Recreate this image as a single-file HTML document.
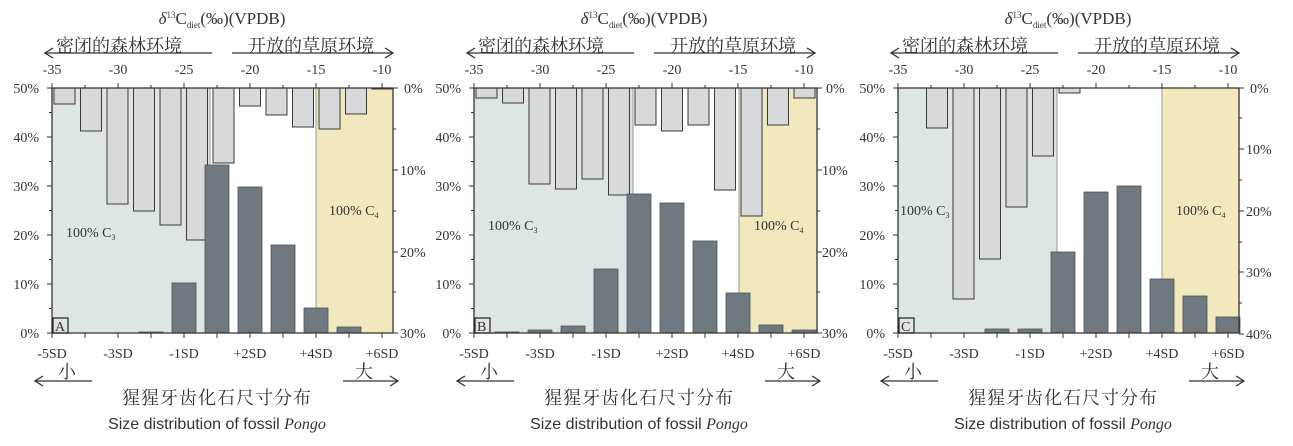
<!DOCTYPE html>
<html><head><meta charset="utf-8"><style>
html,body{margin:0;padding:0;background:#fff}
svg{display:block}
.t{font-family:"Liberation Serif",serif;font-size:14px;fill:#333}
.c{font-family:"Liberation Serif","Noto Serif CJK SC",serif;font-size:18px;fill:#333}
.ct{font-family:"Liberation Serif","Noto Serif CJK SC",serif;font-size:18px;fill:#333;letter-spacing:1px}
.e{font-family:"Liberation Sans",sans-serif;font-size:16px;fill:#333}
</style></head><body>
<svg id="s" width="1293" height="446" viewBox="0 0 1293 446" xmlns="http://www.w3.org/2000/svg">
<g id="pA" transform="translate(52,0)">
<g class="bars"></g>
<text class="t" x="170" y="24" text-anchor="middle" style="font-size:17px"><tspan font-style="italic">δ</tspan><tspan dy="-6" font-size="9">13</tspan><tspan dy="6">C</tspan><tspan dy="4" font-size="9">diet</tspan><tspan dy="-4">(‰)(VPDB)</tspan></text>
<text class="c" x="4" y="52">密闭的森林环境</text>
<text class="c" x="196" y="52">开放的草原环境</text>
<text class="t" x="0" y="74" text-anchor="middle">-35</text><text class="t" x="66" y="74" text-anchor="middle">-30</text><text class="t" x="132" y="74" text-anchor="middle">-25</text><text class="t" x="198" y="74" text-anchor="middle">-20</text><text class="t" x="264" y="74" text-anchor="middle">-15</text><text class="t" x="330" y="74" text-anchor="middle">-10</text>
<text class="t" x="-13" y="93" text-anchor="end">50%</text><text class="t" x="-13" y="142" text-anchor="end">40%</text><text class="t" x="-13" y="191" text-anchor="end">30%</text><text class="t" x="-13" y="240" text-anchor="end">20%</text><text class="t" x="-13" y="289" text-anchor="end">10%</text><text class="t" x="-13" y="338" text-anchor="end">0%</text>
<text class="t" x="352" y="93">0%</text><text class="t" x="348" y="175">10%</text><text class="t" x="348" y="257">20%</text><text class="t" x="348" y="338">30%</text>
<text class="t" x="14" y="237">100% C<tspan dy="3" font-size="8">3</tspan></text>
<text class="t" x="277" y="215">100% C<tspan dy="3" font-size="8">4</tspan></text>
<text class="t" x="3" y="331">A</text>
<text class="t" x="0" y="358" text-anchor="middle">-5SD</text><text class="t" x="66" y="358" text-anchor="middle">-3SD</text><text class="t" x="132" y="358" text-anchor="middle">-1SD</text><text class="t" x="198" y="358" text-anchor="middle">+2SD</text><text class="t" x="264" y="358" text-anchor="middle">+4SD</text><text class="t" x="330" y="358" text-anchor="middle">+6SD</text>
<text class="c" x="6" y="378">小</text><text class="c" x="303" y="378">大</text>
<text class="ct" x="165" y="404" text-anchor="middle">猩猩牙齿化石尺寸分布</text>
<text class="e" x="165" y="429" text-anchor="middle">Size distribution of fossil <tspan font-style="italic" font-family="Liberation Serif">Pongo</tspan></text>
</g>
<g id="pB" transform="translate(474,0)">
<g class="bars"></g>
<text class="t" x="170" y="24" text-anchor="middle" style="font-size:17px"><tspan font-style="italic">δ</tspan><tspan dy="-6" font-size="9">13</tspan><tspan dy="6">C</tspan><tspan dy="4" font-size="9">diet</tspan><tspan dy="-4">(‰)(VPDB)</tspan></text>
<text class="c" x="4" y="52">密闭的森林环境</text>
<text class="c" x="196" y="52">开放的草原环境</text>
<text class="t" x="0" y="74" text-anchor="middle">-35</text><text class="t" x="66" y="74" text-anchor="middle">-30</text><text class="t" x="132" y="74" text-anchor="middle">-25</text><text class="t" x="198" y="74" text-anchor="middle">-20</text><text class="t" x="264" y="74" text-anchor="middle">-15</text><text class="t" x="330" y="74" text-anchor="middle">-10</text>
<text class="t" x="-13" y="93" text-anchor="end">50%</text><text class="t" x="-13" y="142" text-anchor="end">40%</text><text class="t" x="-13" y="191" text-anchor="end">30%</text><text class="t" x="-13" y="240" text-anchor="end">20%</text><text class="t" x="-13" y="289" text-anchor="end">10%</text><text class="t" x="-13" y="338" text-anchor="end">0%</text>
<text class="t" x="352" y="93">0%</text><text class="t" x="348" y="175">10%</text><text class="t" x="348" y="257">20%</text><text class="t" x="348" y="338">30%</text>
<text class="t" x="14" y="230">100% C<tspan dy="3" font-size="8">3</tspan></text>
<text class="t" x="280" y="230">100% C<tspan dy="3" font-size="8">4</tspan></text>
<text class="t" x="3" y="331">B</text>
<text class="t" x="0" y="358" text-anchor="middle">-5SD</text><text class="t" x="66" y="358" text-anchor="middle">-3SD</text><text class="t" x="132" y="358" text-anchor="middle">-1SD</text><text class="t" x="198" y="358" text-anchor="middle">+2SD</text><text class="t" x="264" y="358" text-anchor="middle">+4SD</text><text class="t" x="330" y="358" text-anchor="middle">+6SD</text>
<text class="c" x="6" y="378">小</text><text class="c" x="303" y="378">大</text>
<text class="ct" x="165" y="404" text-anchor="middle">猩猩牙齿化石尺寸分布</text>
<text class="e" x="165" y="429" text-anchor="middle">Size distribution of fossil <tspan font-style="italic" font-family="Liberation Serif">Pongo</tspan></text>
</g>
<g id="pC" transform="translate(898,0)">
<g class="bars"></g>
<text class="t" x="170" y="24" text-anchor="middle" style="font-size:17px"><tspan font-style="italic">δ</tspan><tspan dy="-6" font-size="9">13</tspan><tspan dy="6">C</tspan><tspan dy="4" font-size="9">diet</tspan><tspan dy="-4">(‰)(VPDB)</tspan></text>
<text class="c" x="4" y="52">密闭的森林环境</text>
<text class="c" x="196" y="52">开放的草原环境</text>
<text class="t" x="0" y="74" text-anchor="middle">-35</text><text class="t" x="66" y="74" text-anchor="middle">-30</text><text class="t" x="132" y="74" text-anchor="middle">-25</text><text class="t" x="198" y="74" text-anchor="middle">-20</text><text class="t" x="264" y="74" text-anchor="middle">-15</text><text class="t" x="330" y="74" text-anchor="middle">-10</text>
<text class="t" x="-13" y="93" text-anchor="end">50%</text><text class="t" x="-13" y="142" text-anchor="end">40%</text><text class="t" x="-13" y="191" text-anchor="end">30%</text><text class="t" x="-13" y="240" text-anchor="end">20%</text><text class="t" x="-13" y="289" text-anchor="end">10%</text><text class="t" x="-13" y="338" text-anchor="end">0%</text>
<text class="t" x="352" y="93">0%</text><text class="t" x="348" y="154">10%</text><text class="t" x="348" y="216">20%</text><text class="t" x="348" y="277">30%</text><text class="t" x="348" y="339">40%</text>
<text class="t" x="2" y="215">100% C<tspan dy="3" font-size="8">3</tspan></text>
<text class="t" x="278" y="215">100% C<tspan dy="3" font-size="8">4</tspan></text>
<text class="t" x="3" y="331">C</text>
<text class="t" x="0" y="358" text-anchor="middle">-5SD</text><text class="t" x="66" y="358" text-anchor="middle">-3SD</text><text class="t" x="132" y="358" text-anchor="middle">-1SD</text><text class="t" x="198" y="358" text-anchor="middle">+2SD</text><text class="t" x="264" y="358" text-anchor="middle">+4SD</text><text class="t" x="330" y="358" text-anchor="middle">+6SD</text>
<text class="c" x="6" y="378">小</text><text class="c" x="303" y="378">大</text>
<text class="ct" x="165" y="404" text-anchor="middle">猩猩牙齿化石尺寸分布</text>
<text class="e" x="165" y="429" text-anchor="middle">Size distribution of fossil <tspan font-style="italic" font-family="Liberation Serif">Pongo</tspan></text>
</g>
</svg>
<script>
var NS="http://www.w3.org/2000/svg";
function el(p,n,a){var e=document.createElementNS(NS,n);for(var k in a)e.setAttribute(k,a[k]);p.appendChild(e);return e;}
var P=[
 {id:"pA",w:341,blue:158,yel:264,j0:0,light:[104,131,204,211,225,240,163,106,115,127,129,114,89],k0:3,dark:[332,283,165,187,245,308,327],r:[88,170,252,333],rm:[129,211,292]},
 {id:"pB",w:343,blue:159,yel:265,j0:0,light:[98,103,184,189,179,195,125,131,125,190,216,125,98],k0:1,dark:[332,330,326,269,194,203,241,293,325,330],r:[88,170,252,333],rm:[129,211,292]},
 {id:"pC",w:341,blue:159,yel:264,j0:1,light:[128,299,259,207,156,93],k0:3,dark:[329,329,252,192,186,279,296,317],r:[88,149,211,272,334],rm:[118,180,242,303]}
];
var T=88,B=333;
P.forEach(function(p){
 var g=document.querySelector("#"+p.id+" .bars");
 el(g,"rect",{x:0,y:T,width:p.blue,height:B-T,fill:"#dde6e4"});
 el(g,"line",{x1:p.blue,y1:T,x2:p.blue,y2:B,stroke:"#999","stroke-width":1});
 el(g,"rect",{x:p.yel,y:T,width:p.w-p.yel,height:B-T,fill:"#f1e8bd"});
 el(g,"line",{x1:p.yel,y1:T,x2:p.yel,y2:B,stroke:"#999","stroke-width":1});
 p.light.forEach(function(b,i){var j=p.j0+i;el(g,"rect",{x:2+26.5*j,y:T,width:21,height:Math.max(1,b-T),fill:"#d7d9db",stroke:"#3a3a3a","stroke-width":1});});
 p.dark.forEach(function(t,i){var k=p.k0+i;el(g,"rect",{x:33*k-12,y:t,width:24,height:B-t,fill:"#6f7a80",stroke:"#4a5257","stroke-width":0.8});});
 var ax={stroke:"#333","stroke-width":1.3};
 el(g,"line",Object.assign({x1:0,y1:T,x2:p.w,y2:T},ax));
 el(g,"line",Object.assign({x1:0,y1:B,x2:p.w,y2:B},ax));
 el(g,"line",Object.assign({x1:0,y1:T,x2:0,y2:B},ax));
 el(g,"line",Object.assign({x1:p.w,y1:T,x2:p.w,y2:B},ax));
 for(var k=0;k<=10;k++){el(g,"line",{x1:33*k,y1:B,x2:33*k,y2:B+5,stroke:"#333"});}
 for(var u=0;u<=10;u++){var x=u*33;el(g,"line",{x1:x,y1:T,x2:x,y2:T-(u%2?3:5),stroke:"#333"});}
 for(var y=0;y<=10;y++){var yy=T+y*24.5;el(g,"line",{x1:0,y1:yy,x2:(y%2?-3:-5),y2:yy,stroke:"#333"});}
 p.r.forEach(function(y){el(g,"line",{x1:p.w,y1:y,x2:p.w+5,y2:y,stroke:"#333"});});
 p.rm.forEach(function(y){el(g,"line",{x1:p.w,y1:y,x2:p.w+3,y2:y,stroke:"#333"});});
 el(g,"rect",{x:1,y:318,width:15,height:15,fill:"none",stroke:"#222","stroke-width":1.2});
 function arrow(x1,x2,y){el(g,"line",{x1:x1,y1:y,x2:x2,y2:y,stroke:"#333","stroke-width":1.3});var d=x2>x1?-1:1;el(g,"polyline",{points:(x2+d*8)+","+(y-5)+" "+x2+","+y+" "+(x2+d*8)+","+(y+5),fill:"none",stroke:"#333","stroke-width":1.3});}
 arrow(160,-7,53);arrow(180,341,53);arrow(40,-17,381);arrow(291,346,381);
});
</script>
</body></html>
